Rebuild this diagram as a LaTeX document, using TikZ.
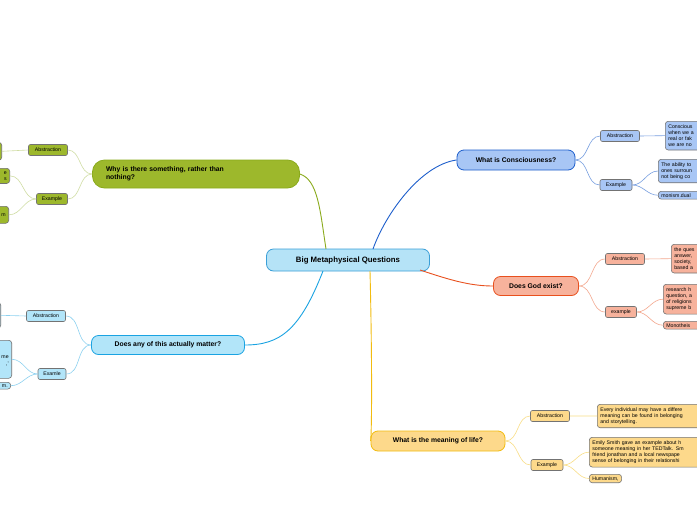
\documentclass[tikz,border=0pt]{standalone}
\usepackage{fontspec}
\setmainfont{Liberation Sans}
\begin{document}
\begin{tikzpicture}[x=1pt,y=-1pt,
  main/.style={rounded corners=7pt,draw,line width=0.8pt,font=\fontsize{6.8}{8}\selectfont\bfseries,inner sep=0pt},
  sub/.style={rounded corners=2pt,draw=black!55,line width=0.6pt,font=\fontsize{5.2}{6}\selectfont,inner sep=0pt,minimum height=11pt},
  leaf/.style={rounded corners=3pt,draw=black!55,line width=0.6pt,font=\fontsize{5.2}{6.3}\selectfont,inner sep=3pt,align=left,anchor=north west},
  lfr/.style={leaf,anchor=north east,align=right},
  con/.style={line width=0.9pt},
  sc/.style={line width=0.6pt}]
\definecolor{cb}{HTML}{B5E3F7}\definecolor{cbd}{HTML}{3B9FD8}
\definecolor{kb}{HTML}{A8C6F5}\definecolor{kbd}{HTML}{1E5FCC}
\definecolor{gb}{HTML}{F7B29C}\definecolor{gbd}{HTML}{E8501E}
\definecolor{mb}{HTML}{FDD98B}\definecolor{mbd}{HTML}{F2BC10}
\definecolor{sb}{HTML}{9DB82C}\definecolor{sbd}{HTML}{8AAA1C}
\definecolor{tb}{HTML}{B2E5F9}\definecolor{tbd}{HTML}{1AA3E2}
\path[use as bounding box,fill=white] (0,0) rectangle (697,520);
\begin{scope}
\clip (0,0) rectangle (697,520);
% main nodes
\node[main,fill=cb,draw=cbd,minimum width=163pt,minimum height=22pt,font=\fontsize{7.8}{9}\selectfont\bfseries] (c) at (348,260) {Big Metaphysical Questions};
\node[main,fill=kb,draw=kbd,minimum width=118pt,minimum height=20pt] (k) at (516,160) {What is Consciousness?};
\node[main,fill=gb,draw=gbd,minimum width=85pt,minimum height=19pt] (g) at (536,286) {Does God exist?};
\node[main,fill=mb,draw=mbd,minimum width=134pt,minimum height=20pt] (m) at (438,441) {What is the meaning of life?};
\node[main,fill=sb,draw=sbd,minimum width=207pt,minimum height=28pt,rounded corners=12pt,align=left,text width=180pt] (s) at (196,174) {Why is there something, rather than\\nothing?};
\node[main,fill=tb,draw=tbd,minimum width=153pt,minimum height=19pt] (t) at (168,345) {Does any of this actually matter?};
% connectors from center
\coordinate (c1) at (373,249);\coordinate (c2) at (420,270);\coordinate (c3) at (370,271);
\coordinate (c4) at (326,249);\coordinate (c5) at (323,271);
\draw[con,draw=kbd] (c1) .. controls (385,215) and (420,165) .. (k.west);
\draw[con,draw=gbd] (c2) .. controls (450,280) and (470,286) .. (g.west);
\draw[con,draw=mbd] (c3) .. controls (372,350) and (372,430) .. (m.west);
\draw[con,draw=sbd] (c4) .. controls (320,210) and (318,180) .. (s.east);
\draw[con,draw=tbd] (c5) .. controls (300,330) and (280,345) .. (t.east);
% consciousness
\node[sub,fill=kb,minimum width=39pt] (k1) at (620,136) {Abstraction};
\node[sub,fill=kb,minimum width=32pt] (k2) at (616,185) {Example};
\node[leaf,fill=kb,text width=60pt] (k11) at (665,121) {Conscious\\when we a\\real or fak\\we are no};
\node[leaf,fill=kb,text width=60pt] (k21) at (658,159) {The ability to\\ones surroun\\not being co};
\node[leaf,fill=kb,text width=60pt,inner ysep=2pt] (k22) at (658,191) {monism.dual};
\draw[sc,kbd!60] (k.east) to[out=0,in=180] (k1.west);
\draw[sc,kbd!60] (k.east) to[out=0,in=180] (k2.west);
\draw[sc,kbd!60] (k1.east) -- (k11.west);
\draw[sc,kbd!60] (k2.east) to[out=0,in=180] (k21.west);
\draw[sc,kbd!60] (k2.east) to[out=0,in=180] (k22.west);
% god
\node[sub,fill=gb,minimum width=39pt] (g1) at (625,259) {Abstraction};
\node[sub,fill=gb,minimum width=31pt] (g2) at (621,312) {example};
\node[leaf,fill=gb,text width=60pt] (g11) at (671,244) {the ques\\answer, \\society, \\based a};
\node[leaf,fill=gb,text width=60pt] (g21) at (663,284) {research h\\question, a\\of religions\\supreme b};
\node[leaf,fill=gb,text width=60pt,inner ysep=2pt] (g22) at (663,321) {Monotheis};
\draw[sc,gbd!50] (g.east) to[out=0,in=180] (g1.west);
\draw[sc,gbd!50] (g.east) to[out=0,in=180] (g2.west);
\draw[sc,gbd!50] (g1.east) -- (g11.west);
\draw[sc,gbd!50] (g2.east) to[out=0,in=180] (g21.west);
\draw[sc,gbd!50] (g2.east) to[out=0,in=180] (g22.west);
% meaning
\node[sub,fill=mb,minimum width=39pt] (m1) at (550,416) {Abstraction};
\node[sub,fill=mb,minimum width=32pt] (m2) at (547,465) {Example};
\node[leaf,fill=mb,text width=130pt] (m11) at (597,404) {Every individual may have a differe\\meaning can be found in belonging\\and storytelling.};
\node[leaf,fill=mb,text width=130pt] (m21) at (589,437) {Emily Smith gave an example about h\\someone meaning in her TEDTalk. Sm\\friend jonathan and a local newspape\\sense of belonging in their relationshi};
\node[leaf,fill=mb,inner ysep=2pt] (m22) at (589,474) {Humanism,};
\draw[sc,mbd!50] (m.east) to[out=0,in=180] (m1.west);
\draw[sc,mbd!50] (m.east) to[out=0,in=180] (m2.west);
\draw[sc,mbd!50] (m1.east) -- (m11.west);
\draw[sc,mbd!50] (m2.east) to[out=0,in=180] (m21.west);
\draw[sc,mbd!50] (m2.east) to[out=0,in=180] (m22.west);
% something
\node[sub,fill=sb,minimum width=39pt] (s1) at (48,150) {Abstraction};
\node[sub,fill=sb,minimum width=31pt] (s2) at (52,199) {Example};
\node[lfr,fill=sb,text width=30pt,minimum height=18pt] (s11) at (2,142) {};
\node[lfr,fill=sb,text width=30pt] (s21) at (10,168) {e\\s\\};
\node[lfr,fill=sb,text width=30pt,minimum height=17pt] (s22) at (9,206) {m};
\draw[sc,sbd!40] (s.west) to[out=180,in=0] (s1.east);
\draw[sc,sbd!40] (s.west) to[out=180,in=0] (s2.east);
\draw[sc,sbd!40] (s1.west) -- (s11.east);
\draw[sc,sbd!40] (s2.west) to[out=180,in=0] (s21.east);
\draw[sc,sbd!40] (s2.west) to[out=180,in=0] (s22.east);
% matter
\node[sub,fill=tb,minimum width=39pt] (t1) at (46,316) {Abstraction};
\node[sub,fill=tb,minimum width=28pt] (t2) at (52,374) {Examle};
\node[lfr,fill=tb,text width=30pt,minimum height=26pt] (t11) at (1,302) {};
\node[lfr,fill=tb,text width=30pt,minimum height=38pt] (t21) at (12,340) {\\me\\,'};
\node[lfr,fill=tb,text width=30pt,inner ysep=2pt] (t22) at (11,382) {m.};
\draw[sc,tbd!50] (t.west) to[out=180,in=0] (t1.east);
\draw[sc,tbd!50] (t.west) to[out=180,in=0] (t2.east);
\draw[sc,tbd!50] (t1.west) -- (t11.east);
\draw[sc,tbd!50] (t2.west) to[out=180,in=0] (t21.east);
\draw[sc,tbd!50] (t2.west) to[out=180,in=0] (t22.east);
\end{scope}
\end{tikzpicture}
\end{document}
